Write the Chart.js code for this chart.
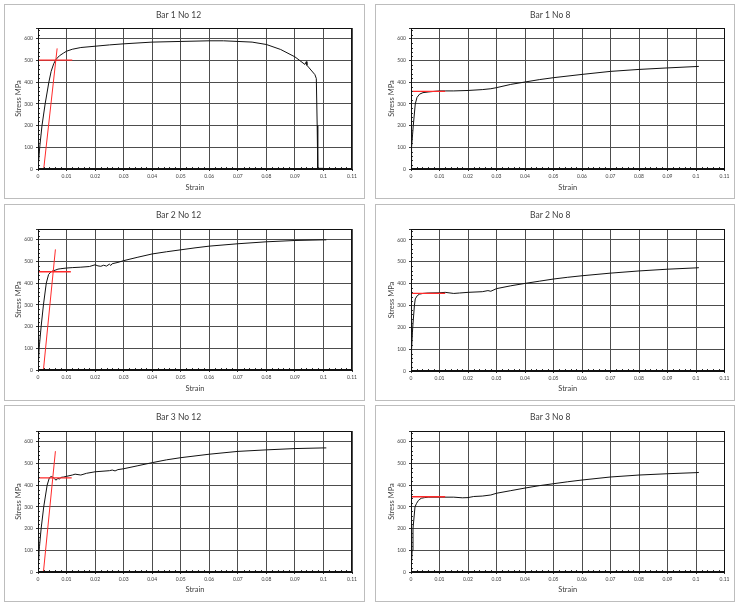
<!DOCTYPE html>
<html lang="en">
<head>
<meta charset="UTF-8">
<title>Stress-strain curves</title>
<script src="https://cdn.jsdelivr.net/npm/chart.js"></script>
<style>
    body {
        margin: 0;
        background: #fff;
        width: 741px;
        height: 606px;
        position: relative;
        overflow: hidden;
        font-family: 'Lato', sans-serif;
    }
    .panel {
        position: absolute;
        box-sizing: border-box;
        border: 1px solid #bdbdbd;
        background: #fff;
    }
    .panel canvas {
        display: block;
    }
</style>
</head>
<body>
<script>
// axis ticks
const strainTicks = [0, 0.01, 0.02, 0.03, 0.04, 0.05, 0.06, 0.07, 0.08, 0.09, 0.1, 0.11];
const stressTicks = [0, 100, 200, 300, 400, 500, 600];
const strainMax = 0.11;
const stressMax = 650;

// Bar 1 No 12
const bar1No12Strain = [0, 0.0006, 0.0014, 0.0025, 0.0038, 0.0046, 0.0055, 0.0063, 0.0075, 0.009, 0.01, 0.012, 0.015, 0.02, 0.025, 0.03, 0.04, 0.05, 0.06, 0.065, 0.07, 0.075, 0.08, 0.085, 0.09, 0.0935, 0.094, 0.0942, 0.095, 0.097, 0.0975, 0.0978, 0.098, 0.1];
const bar1No12Stress = [0, 100, 200, 300, 400, 450, 485, 505, 522, 535, 543, 552, 560, 566, 572, 577, 585, 588, 591, 591, 588, 585, 574, 551, 517, 482, 495, 478, 466, 435, 417, 200, 3, 3];
const bar1No12OffsetStrain = [0.002, 0.0067];
const bar1No12OffsetStress = [0, 556];
const bar1No12YieldStrain = [0, 0.012];
const bar1No12YieldStress = [502, 502];

// Bar 1 No 8
const bar1No8Strain = [0, 0.0002, 0.0008, 0.0015, 0.0021, 0.003, 0.0042, 0.006, 0.0083, 0.01, 0.012, 0.015, 0.02, 0.025, 0.028, 0.03, 0.035, 0.04, 0.045, 0.05, 0.06, 0.07, 0.08, 0.09, 0.101];
const bar1No8Stress = [0, 100, 200, 300, 330, 345, 352, 355, 358, 360, 360, 360, 362, 366, 370, 375, 390, 401, 412, 421, 436, 450, 459, 466, 473];
const bar1No8YieldStrain = [0, 0.012];
const bar1No8YieldStress = [358, 358];

// Bar 2 No 12
const bar2No12Strain = [0, 0.0004, 0.0011, 0.0019, 0.0029, 0.0037, 0.0045, 0.005, 0.006, 0.007, 0.008, 0.01, 0.012, 0.015, 0.018, 0.02, 0.021, 0.022, 0.023, 0.024, 0.025, 0.0255, 0.026, 0.028, 0.03, 0.035, 0.04, 0.045, 0.05, 0.055, 0.06, 0.07, 0.08, 0.09, 0.1, 0.101];
const bar2No12Stress = [0, 100, 200, 300, 400, 440, 452, 456, 460, 465, 467, 470, 472, 474, 477, 485, 480, 478, 483, 479, 488, 482, 490, 496, 504, 520, 535, 545, 554, 563, 571, 582, 591, 597, 600, 600];
const bar2No12OffsetStrain = [0.0019, 0.0061];
const bar2No12OffsetStress = [0, 556];
const bar2No12YieldStrain = [0, 0.0115];
const bar2No12YieldStress = [453, 453];

// Bar 2 No 8
const bar2No8Strain = [0, 0.0002, 0.0006, 0.0012, 0.0015, 0.0022, 0.003, 0.0042, 0.006, 0.01, 0.012, 0.015, 0.017, 0.02, 0.025, 0.027, 0.028, 0.03, 0.035, 0.04, 0.045, 0.05, 0.055, 0.06, 0.07, 0.08, 0.09, 0.1, 0.101];
const bar2No8Stress = [0, 100, 200, 300, 330, 345, 352, 355, 357, 358, 360, 355, 357, 360, 363, 368, 365, 377, 390, 401, 411, 421, 429, 436, 448, 458, 466, 472, 473];
const bar2No8YieldStrain = [0, 0.012];
const bar2No8YieldStress = [355, 355];

// Bar 3 No 12
const bar3No12Strain = [0, 0.0004, 0.0011, 0.002, 0.0032, 0.004, 0.0046, 0.0052, 0.0058, 0.0063, 0.0068, 0.007, 0.0075, 0.008, 0.009, 0.01, 0.012, 0.013, 0.015, 0.017, 0.02, 0.025, 0.026, 0.027, 0.028, 0.03, 0.035, 0.04, 0.045, 0.05, 0.06, 0.07, 0.08, 0.09, 0.1, 0.101];
const bar3No12Stress = [0, 100, 200, 300, 400, 435, 440, 437, 430, 423, 430, 432, 428, 436, 438, 441, 447, 451, 447, 455, 462, 467, 470, 466, 472, 476, 490, 504, 517, 527, 543, 556, 563, 569, 572, 572];
const bar3No12OffsetStrain = [0.0019, 0.0061];
const bar3No12OffsetStress = [0, 557];
const bar3No12YieldStrain = [0, 0.0118];
const bar3No12YieldStress = [434, 434];

// Bar 3 No 8
const bar3No8Strain = [0, 0.0004, 0.0007, 0.0014, 0.0019, 0.0026, 0.0036, 0.0048, 0.006, 0.01, 0.015, 0.018, 0.02, 0.022, 0.025, 0.028, 0.03, 0.035, 0.04, 0.045, 0.05, 0.055, 0.06, 0.07, 0.08, 0.09, 0.1, 0.101];
const bar3No8Stress = [0, 100, 200, 300, 315, 330, 340, 343, 345, 345, 345, 342, 343, 348, 350, 355, 363, 375, 387, 398, 407, 416, 424, 438, 447, 453, 458, 459];
const bar3No8YieldStrain = [0, 0.012];
const bar3No8YieldStress = [347, 347];

function pts(xs, ys) {
    return xs.map((x, i) => ({x: x, y: ys[i]}));
}

// layout of the six panels (page px) and their plot areas (canvas px)
const panels = [
    {title: 'Bar 1 No 12', left: 4, top: 4, w: 361, h: 195, plotL: 33, plotR: 347, plotT: 23, plotB: 164, titleY: 10.7, xTitleY: 182.3,
     curve: [bar1No12Strain, bar1No12Stress], offset: [bar1No12OffsetStrain, bar1No12OffsetStress], yieldLine: [bar1No12YieldStrain, bar1No12YieldStress]},
    {title: 'Bar 1 No 8', left: 375, top: 4, w: 360, h: 195, plotL: 35, plotR: 348.5, plotT: 23, plotB: 164, titleY: 10.7, xTitleY: 182.3,
     curve: [bar1No8Strain, bar1No8Stress], yieldLine: [bar1No8YieldStrain, bar1No8YieldStress]},
    {title: 'Bar 2 No 12', left: 4, top: 204, w: 361, h: 197, plotL: 33, plotR: 347, plotT: 24, plotB: 165, titleY: 10.7, xTitleY: 183.3,
     curve: [bar2No12Strain, bar2No12Stress], offset: [bar2No12OffsetStrain, bar2No12OffsetStress], yieldLine: [bar2No12YieldStrain, bar2No12YieldStress]},
    {title: 'Bar 2 No 8', left: 375, top: 204, w: 360, h: 197, plotL: 35, plotR: 348.5, plotT: 24, plotB: 166, titleY: 10.7, xTitleY: 183.3,
     curve: [bar2No8Strain, bar2No8Stress], yieldLine: [bar2No8YieldStrain, bar2No8YieldStress]},
    {title: 'Bar 3 No 12', left: 4, top: 405, w: 361, h: 197, plotL: 33, plotR: 347, plotT: 25, plotB: 166, titleY: 11.3, xTitleY: 184,
     curve: [bar3No12Strain, bar3No12Stress], offset: [bar3No12OffsetStrain, bar3No12OffsetStress], yieldLine: [bar3No12YieldStrain, bar3No12YieldStress]},
    {title: 'Bar 3 No 8', left: 375, top: 405, w: 360, h: 197, plotL: 35, plotR: 348.5, plotT: 25, plotB: 166, titleY: 11.3, xTitleY: 184,
     curve: [bar3No8Strain, bar3No8Stress], yieldLine: [bar3No8YieldStrain, bar3No8YieldStress]}
];

const FONT = "'Lato', 'Noto Sans', sans-serif";
const TEXT = '#3f3f3f';
const GRID = '#4d4d4d';

// small minor ticks inside the axes + black plot frame
const frameAndMinor = {
    id: 'frameAndMinor',
    afterDraw(chart) {
        const {ctx, chartArea: a, scales: {x, y}} = chart;
        ctx.save();
        ctx.strokeStyle = '#333';
        ctx.lineWidth = 1;
        ctx.beginPath();
        for (let i = 1; i < 55; i++) {
            if (i % 5 === 0) continue;
            const px = Math.round(x.getPixelForValue(i * 0.002)) + 0.5;
            ctx.moveTo(px, a.bottom);
            ctx.lineTo(px, a.bottom - 2);
        }
        for (let i = 1; i < 33; i++) {
            if (i % 5 === 0) continue;
            const py = Math.round(y.getPixelForValue(i * 20)) + 0.5;
            ctx.moveTo(a.left, py);
            ctx.lineTo(a.left + 2, py);
        }
        ctx.stroke();
        ctx.strokeStyle = '#111';
        ctx.strokeRect(Math.round(a.left) + 0.5, Math.round(a.top) + 0.5, Math.round(a.width) - 1, Math.round(a.height) - 1);
        ctx.restore();
    }
};

panels.forEach(p => {
    const div = document.createElement('div');
    div.className = 'panel';
    div.style.left = p.left + 'px';
    div.style.top = p.top + 'px';
    div.style.width = p.w + 'px';
    div.style.height = p.h + 'px';
    const cw = p.w - 2, ch = p.h - 2;
    const canvas = document.createElement('canvas');
    canvas.width = cw;
    canvas.height = ch;
    canvas.style.width = cw + 'px';
    canvas.style.height = ch + 'px';
    div.appendChild(canvas);
    document.body.appendChild(div);

    const titleSize = 8.5, titleLH = titleSize * 1.2;
    const titlePadTop = p.titleY - titleLH / 2;
    const titlePadBottom = p.plotT - titlePadTop - titleLH;
    const axisTitleSize = 7.5;

    const datasets = [];
    if (p.offset) {
        datasets.push({data: pts(p.offset[0], p.offset[1]), borderColor: '#ff2a2a', borderWidth: 1, order: 0});
    }
    datasets.push({data: pts(p.yieldLine[0], p.yieldLine[1]), borderColor: '#ff2a2a', borderWidth: 1.3, order: 0});
    datasets.push({data: pts(p.curve[0], p.curve[1]), borderColor: '#111', borderWidth: 1, order: 1});

    new Chart(canvas.getContext('2d'), {
        type: 'scatter',
        data: {datasets: datasets.map(d => Object.assign({showLine: true, pointRadius: 0, tension: 0, fill: false}, d))},
        options: {
            responsive: false,
            animation: false,
            events: [],
            layout: {padding: {left: 0, top: 0, right: cw - p.plotR, bottom: 0}},
            plugins: {
                legend: {display: false},
                tooltip: {enabled: false},
                title: {
                    display: true,
                    text: p.title,
                    color: TEXT,
                    font: {family: FONT, size: titleSize, weight: 'normal', lineHeight: 1.2},
                    padding: {top: titlePadTop, bottom: titlePadBottom}
                }
            },
            scales: {
                x: {
                    type: 'linear',
                    min: 0,
                    max: strainMax,
                    afterBuildTicks(scale) {
                        scale.ticks = strainTicks.map(v => ({value: v}));
                    },
                    afterFit(scale) { scale.height = ch - p.plotB; },
                    ticks: {
                        color: TEXT,
                        font: {family: FONT, size: 5},
                        padding: 2,
                        maxRotation: 0,
                        autoSkip: false,
                        callback: v => String(Number(v.toFixed(2)))
                    },
                    grid: {color: GRID, lineWidth: 1, drawTicks: true, tickLength: 2, tickColor: '#333'},
                    border: {display: true, color: '#111'},
                    title: {
                        display: true,
                        text: 'Strain',
                        color: TEXT,
                        font: {family: FONT, size: axisTitleSize, lineHeight: 1.2},
                        padding: {top: 0, bottom: ch - p.xTitleY - axisTitleSize * 0.6}
                    }
                },
                y: {
                    type: 'linear',
                    min: 0,
                    max: stressMax,
                    afterBuildTicks(scale) {
                        scale.ticks = stressTicks.concat([stressMax]).map(v => ({value: v}));
                    },
                    afterFit(scale) { scale.width = p.plotL; },
                    ticks: {
                        color: TEXT,
                        font: {family: FONT, size: 5},
                        padding: 3,
                        autoSkip: false,
                        callback: v => (stressTicks.includes(v) ? String(v) : '')
                    },
                    grid: {color: GRID, lineWidth: 1, drawTicks: true, tickLength: 2, tickColor: '#333'},
                    border: {display: true, color: '#111'},
                    title: {
                        display: true,
                        text: 'Stress MPa',
                        color: TEXT,
                        font: {family: FONT, size: axisTitleSize, lineHeight: 1.2},
                        padding: {top: 13.5 + (p.plotL - 33) - axisTitleSize * 0.6, bottom: 0}
                    }
                }
            }
        },
        plugins: [frameAndMinor]
    });
});
</script>
</body>
</html>
